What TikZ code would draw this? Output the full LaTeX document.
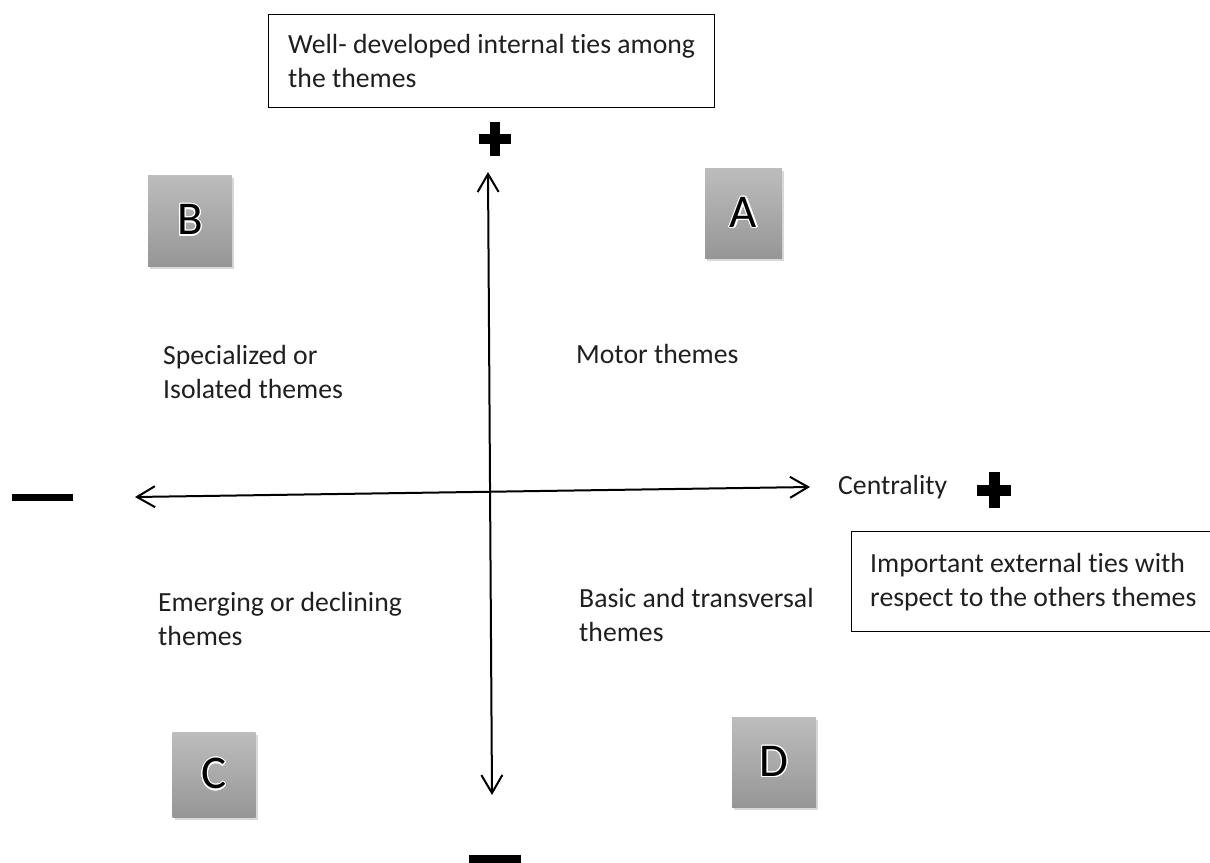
\documentclass[tikz,border=0pt]{standalone}
\usepackage{fontspec}
\setmainfont[Ligatures=NoCommon]{Carlito}
\usepackage{contour}
\contourlength{1.2pt}
\usetikzlibrary{positioning,arrows.meta,shadows}

\begin{document}
\begin{tikzpicture}[x=1pt,y=-1pt,
txt/.style={align=left,inner sep=0pt,text=black!88,font=\fontsize{27.7}{34}\selectfont},
tiebox/.style={draw,line width=1.3pt,anchor=north west,inner sep=0pt},
quad/.style={inner sep=0pt,top color=gray!52,bottom color=gray!82,draw=none,drop shadow={opacity=0.3,shadow xshift=2pt,shadow yshift=-3pt},font=\fontsize{47}{47}\selectfont},
axis/.style={line width=2pt,{Straight Barb[length=18pt,width=21pt,line width=2pt]}-{Straight Barb[length=18pt,width=21pt,line width=2pt]}},
sign/.style={inner sep=0pt},
minus/.style={fill=black,inner sep=0pt}]
\useasboundingbox (0,0) rectangle (1210,862);
\coordinate (up) at (488,172);
\coordinate (down) at (492,795);
\coordinate (lt) at (135,497);
\coordinate (rt) at (810,487);
\draw[axis] (up) -- (down);
\draw[axis] (lt) -- (rt);
\node[sign,minimum width=32pt,minimum height=33pt] (pl1) at (495,139) {};
\draw[line width=10pt] (pl1.north) -- (pl1.south) (pl1.west) -- (pl1.east);
\node[minus,minimum width=52pt,minimum height=14pt] (mi1) at (494.5,862) {};
\node[minus,minimum width=61pt,minimum height=7pt] (mi2) at (42.5,497.5) {};
\node[txt,anchor=west] (cent) [right=28pt of rt] {Centrality};
\node[sign,minimum width=34pt,minimum height=36pt] (pl2) at (994,490) {};
\draw[line width=11pt] (pl2.north) -- (pl2.south) (pl2.west) -- (pl2.east);
\node[tiebox,minimum width=446pt,minimum height=93pt] (internal) at (268,14) {};
\node[txt,anchor=west] (internaltxt) [right=20pt of internal.west] {Well- developed internal ties among\\the themes};
\node[tiebox,minimum width=380pt,minimum height=100pt] (external) at (851,531) {};
\node[txt,anchor=west] (externaltxt) [right=19pt of external.west] {Important external ties with\\respect to the others themes};
\node[quad,minimum width=84pt,minimum height=91pt] (b) at (190,220.5) {\contour{white}{B}};
\node[quad,minimum width=77pt,minimum height=90pt] (a) at (743.5,213) {\contour{white}{A}};
\node[quad,minimum width=83pt,minimum height=85pt] (c) at (214,774.5) {\contour{white}{C}};
\node[quad,minimum width=84pt,minimum height=90pt] (d) at (774,762) {\contour{white}{D}};
\node[txt,anchor=west] (isol) at (163,372) {Specialized or\\Isolated themes};
\node[txt,anchor=west] (motor) at (576,354) {Motor themes};
\node[txt,anchor=west] (emerg) at (158,619) {Emerging or declining\\themes};
\node[txt,anchor=west] (basic) at (579,615) {Basic and transversal\\themes};
\end{tikzpicture}
\end{document}
